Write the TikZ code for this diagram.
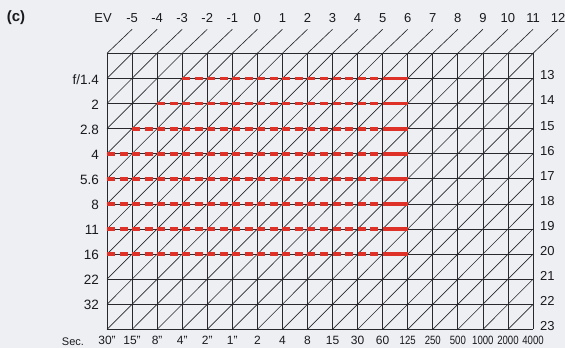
\documentclass[tikz,border=0pt]{standalone}
\usepackage{fontspec}
\setmainfont{Liberation Sans}
\definecolor{paper}{RGB}{237,239,243}
\definecolor{gridc}{RGB}{40,40,45}
\definecolor{redc}{RGB}{222,50,40}
\definecolor{inkc}{RGB}{25,25,30}
\begin{document}
\begin{tikzpicture}[x=1pt,y=-1pt,
  gridline/.style={draw=gridc,line width=0.8pt},
  diagline/.style={draw=gridc,line width=0.65pt},
  redsolid/.style={draw=redc,line width=3.8pt},
  reddash/.style={draw=redc,line width=3.8pt,dash pattern=on 8pt off 4.53pt},
  evlabel/.style={text=inkc,font=\fontsize{13}{13}\selectfont,inner sep=0pt},
  flabel/.style={text=inkc,font=\fontsize{13.5}{13.5}\selectfont,inner sep=0pt,anchor=east},
  rlabel/.style={text=inkc,font=\fontsize{13}{13}\selectfont,inner sep=0pt,anchor=west},
  blabel/.style={text=inkc,font=\fontsize{12}{12}\selectfont,inner sep=0pt}]
\def\xo{107}
\def\yo{53.3}
\def\cw{25.06}
\def\rh{25.1}
% background
\fill[paper] (0,0) rectangle (565,348);
\useasboundingbox (0,0) rectangle (565,348);
% title
\node[text=inkc,font=\bfseries\fontsize{15}{15}\selectfont,inner sep=0pt] (title) at (16,17.5) {(c)};
% vertical grid lines
\foreach \i in {0,...,17}
  \draw[gridline] ({\xo+\i*\cw},{\yo}) -- ({\xo+\i*\cw},{\yo+11*\rh});
% horizontal grid lines
\foreach \k in {0,...,11}
  \draw[gridline] ({\xo},{\yo+\k*\rh}) -- ({\xo+17*\cw},{\yo+\k*\rh});
% cell diagonals
\foreach \i in {0,...,16}
  \foreach \k in {0,...,10}
    \draw[diagline] ({\xo+\i*\cw},{\yo+(\k+1)*\rh}) -- ({\xo+(\i+1)*\cw},{\yo+\k*\rh});
% top extensions
\foreach \i in {0,...,17}
  \draw[diagline] ({\xo+\i*\cw},{\yo}) -- ({\xo+(\i+1)*\cw},{\yo-24});
% EV labels
\node[evlabel] (evhead) at (103,18) {EV};
\foreach \v [count=\i from 0] in {-5,-4,-3,-2,-1,0,1,2,3,4,5,6,7,8,9,10,11,12}
  \node[evlabel] (ev\i) at ({\xo+(\i+1)*\cw},18) {\v};
% f-number labels
\foreach \f [count=\k from 1] in {f/1.4,2,2.8,4,5.6,8,11,16,22,32}
  \node[flabel] (f\k) at (99,{\yo+\k*\rh+1}) {\f};
% right EV labels
\foreach \k in {1,...,11}{
  \pgfmathtruncatemacro{\ev}{12+\k}
  \node[rlabel] (r\k) at (540,{\yo+\k*\rh-3}) {\ev};
}
% bottom labels
\node[blabel,font=\fontsize{11}{11}\selectfont] (sec) at (73,342) {Sec.};
\foreach \t [count=\i from 0] in {30",15",8",4",2",1",2,4,8,15,30,60}
  \node[blabel] (b\i) at ({\xo+\i*\cw},340.5) {\t};
\foreach \t [count=\i from 12] in {125,250,500,1000,2000,4000}
  \node[blabel] (b\i) at ({\xo+\i*\cw},340.5) {\scalebox{0.8}[1]{\t}};
% red lines
\foreach \k/\s in {1/3,2/2,3/1,4/0,5/0,6/0,7/0,8/0}{
  \draw[reddash] ({\xo+\s*\cw},{\yo+\k*\rh}) -- ({\xo+11*\cw},{\yo+\k*\rh});
  \draw[redsolid] ({\xo+11*\cw},{\yo+\k*\rh}) -- ({\xo+12*\cw},{\yo+\k*\rh});
}
\end{tikzpicture}
\end{document}
